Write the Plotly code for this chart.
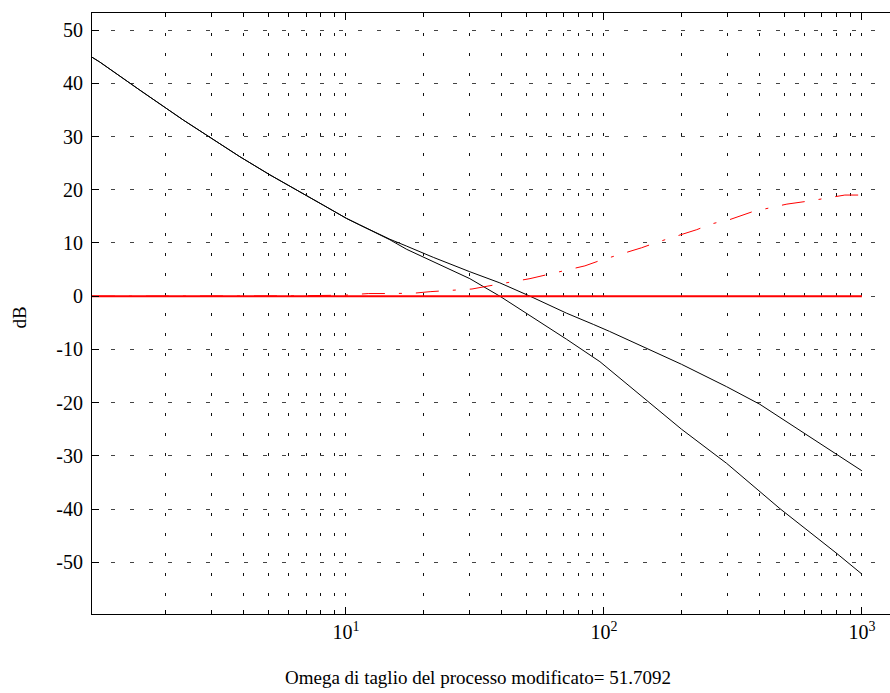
import plotly.graph_objects as go

# ---- data ----
w_upper = [1.036, 1.11, 1.59, 2.34, 3.88, 5.07, 8.17, 10.06, 11.3, 14.8, 17.2, 21.8, 30.2, 39.5,
           51.7, 60, 71.7, 91, 105, 200, 299, 402, 611, 847, 1000]
db_upper = [44.9, 44.0, 38.7, 33.1, 26.2, 22.8, 17.1, 14.6, 13.4, 10.7, 9.4, 7.3, 4.6, 2.5,
            0.0, -1.5, -3.2, -5.3, -6.6, -12.8, -17.0, -20.3, -26.0, -30.4, -32.8]

w_lower = [1.036, 1.11, 1.59, 2.34, 3.88, 5.07, 8.17, 10.06, 11.3, 14.8, 17.2, 21.8, 30.2, 39.5,
           49.4, 60, 71.7, 96.5, 146, 200, 299, 481, 798, 1000]
db_lower = [44.9, 44.0, 38.7, 33.1, 26.2, 22.8, 17.1, 14.6, 13.4, 10.6, 8.8, 6.5, 3.3, 0.0,
            -3.0, -5.6, -8.1, -12.3, -19.5, -25.0, -31.4, -39.9, -48.3, -52.2]

w_comp = [1.036, 3, 6, 10, 12.2, 14.5, 18.2, 21.2, 24.9, 30.8, 35.5, 42.1, 51.7, 59.6, 69.4, 84.4,
          96.5, 113, 140, 160, 188, 229, 262, 308, 378, 433, 512, 628, 731, 859, 1000]
db_comp = [0.0, 0.0, 0.05, 0.2, 0.5, 0.5, 0.55, 0.85, 1.1, 1.35, 1.9, 2.5, 3.3, 4.0, 4.8, 5.7,
           6.7, 7.7, 9.1, 10.1, 11.2, 12.5, 13.6, 14.4, 15.9, 16.5, 17.3, 17.9, 18.4, 19.0, 19.0]

w_zero = [1.036, 1000]
db_zero = [0, 0]

y_ticks = [-50, -40, -30, -20, -10, 0, 10, 20, 30, 40, 50]
y_ticktext = ["-50", "-40", "-30", "-20", "-10", "0", "10", "20", "30", "40", "50"]
x_ticks = [10, 100, 1000]
x_ticktext = ["10<sup>1</sup>", "10<sup>2</sup>", "10<sup>3</sup>"]
x_minor = [m * d for d in (1, 10, 100) for m in range(2, 10)]

xlabel = "Omega di taglio del processo modificato= 51.7092"
ylabel = "dB"

FONT = "Liberation Serif, Times New Roman, serif"

fig = go.Figure()
fig.add_trace(go.Scatter(x=w_upper, y=db_upper, mode="lines",
                         line=dict(color="black", width=1), showlegend=False))
fig.add_trace(go.Scatter(x=w_lower, y=db_lower, mode="lines",
                         line=dict(color="black", width=1), showlegend=False))
fig.add_trace(go.Scatter(x=w_comp, y=db_comp, mode="lines",
                         line=dict(color="red", width=1, dash="23px,14px,3px,14px"),
                         showlegend=False))
fig.add_trace(go.Scatter(x=w_zero, y=db_zero, mode="lines",
                         line=dict(color="red", width=2), showlegend=False))

fig.update_layout(
    width=890, height=693,
    margin=dict(l=92, r=0, t=13, b=79),
    paper_bgcolor="white", plot_bgcolor="white",
    font=dict(family=FONT, size=19, color="black"),
    xaxis=dict(
        type="log", range=[0.0155, 3.109],
        tickmode="array", tickvals=x_ticks, ticktext=x_ticktext,
        ticks="inside", ticklen=7, tickcolor="black",
        showline=True, linecolor="black", linewidth=1, mirror="ticks",
        showgrid=True, gridcolor="#111", gridwidth=1, griddash="3px,17px",
        zeroline=False,
        tickfont=dict(family=FONT, size=20),
        minor=dict(tickmode="array", tickvals=x_minor, ticks="inside", ticklen=4,
                   tickcolor="black", showgrid=True, gridcolor="#111", gridwidth=1,
                   griddash="3px,17px"),
    ),
    yaxis=dict(
        range=[-59.7, 53.2],
        tickmode="array", tickvals=y_ticks, ticktext=y_ticktext,
        ticks="inside", ticklen=7, tickcolor="black",
        showline=True, linecolor="black", linewidth=1,
        showgrid=True, gridcolor="#444", gridwidth=1, griddash="4px,15px",
        zeroline=False, ticklabelstandoff=4,
        tickfont=dict(family=FONT, size=20),
    ),
    annotations=[
        dict(text=xlabel, xref="paper", yref="paper", x=0.4837, y=-0.105,
             xanchor="center", yanchor="middle", showarrow=False,
             font=dict(family=FONT, size=19)),
        dict(text=ylabel, xref="paper", yref="paper", x=-0.092, y=0.4925,
             xanchor="center", yanchor="middle", showarrow=False, textangle=-90,
             font=dict(family=FONT, size=19)),
    ],
)

fig.write_html("out.html")
